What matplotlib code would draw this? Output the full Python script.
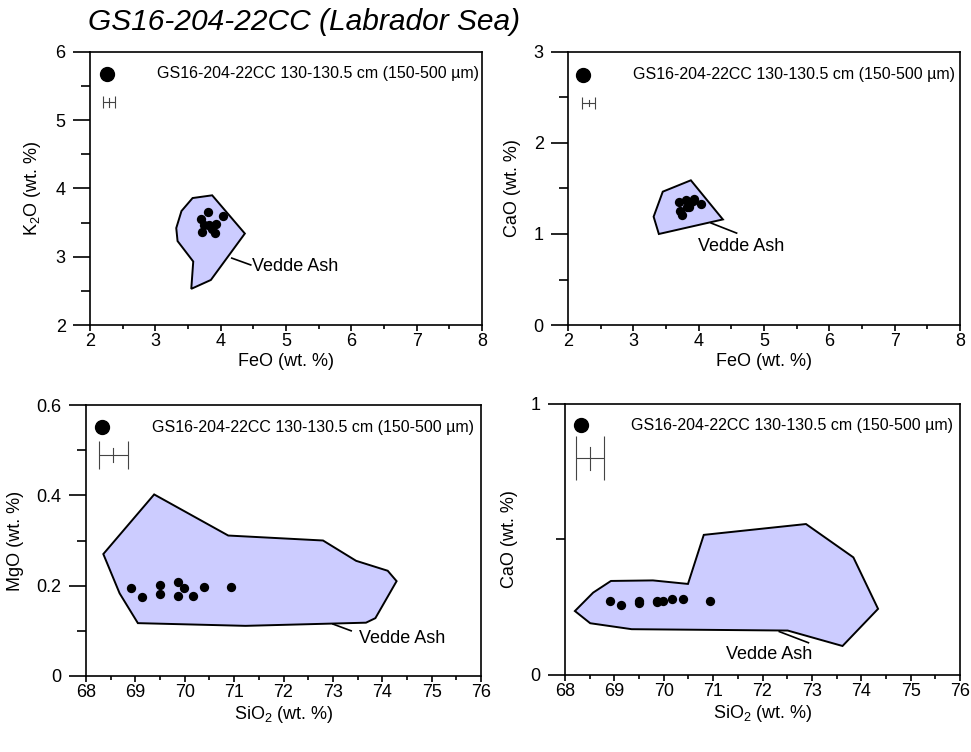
"""
Biplots of glass shard major-element chemistry for GS16-204-22CC (Labrador Sea),
plotted against the Vedde Ash reference field.
"""

import matplotlib

matplotlib.use("Agg")
import matplotlib.pyplot as plt
from matplotlib.patches import Polygon
from matplotlib.ticker import FuncFormatter, MultipleLocator

plt.rcParams["font.family"] = ["Liberation Sans", "DejaVu Sans"]
plt.rcParams["mathtext.fontset"] = "custom"
plt.rcParams["mathtext.rm"] = "Liberation Sans"
plt.rcParams["mathtext.it"] = "Liberation Sans:italic"

SAMPLE_LABEL = "GS16-204-22CC 130-130.5 cm (150-500 µm)"

# shard analyses (wt. %)
sio2 = [68.92, 69.13, 69.49, 69.49, 69.86, 69.98, 69.87, 70.17, 70.39, 70.93]
mgo = [0.195, 0.174, 0.201, 0.182, 0.207, 0.194, 0.176, 0.177, 0.198, 0.198]
cao_si = [0.274, 0.260, 0.274, 0.266, 0.273, 0.272, 0.271, 0.280, 0.280, 0.273]
feo = [3.70, 3.80, 4.03, 3.72, 3.91, 3.82, 3.93, 3.75, 3.87, 3.85]
k2o = [3.56, 3.65, 3.59, 3.36, 3.35, 3.46, 3.48, 3.47, 3.40, 3.44]
cao_fe = [1.35, 1.37, 1.33, 1.25, 1.36, 1.30, 1.39, 1.21, 1.34, 1.30]

# Vedde Ash envelopes
vedde_feo_k2o = [
    (3.40, 3.67), (3.57, 3.86), (3.87, 3.90), (4.37, 3.34), (3.85, 2.66),
    (3.55, 2.53), (3.58, 2.93), (3.34, 3.23), (3.32, 3.42),
]
vedde_feo_cao = [(3.45, 1.465), (3.88, 1.59), (4.37, 1.16), (3.39, 1.00), (3.31, 1.19)]
vedde_sio2_mgo = [
    (68.35, 0.270), (69.38, 0.402), (70.88, 0.311), (72.80, 0.300), (73.47, 0.255),
    (74.11, 0.233), (74.29, 0.210), (73.86, 0.128), (73.67, 0.118), (71.23, 0.111),
    (69.05, 0.117), (68.68, 0.183),
]
vedde_sio2_cao = [
    (68.20, 0.236), (68.57, 0.304), (68.93, 0.347), (69.78, 0.349), (70.49, 0.336),
    (70.81, 0.517), (72.88, 0.557), (73.84, 0.434), (74.34, 0.244), (73.62, 0.107),
    (72.51, 0.164), (69.35, 0.169), (68.51, 0.191),
]

# 2 s.d. on secondary standard (x, y), drawn as a cross
err_feo_k2o = (0.09, 0.06)
err_feo_cao = (0.10, 0.035)
err_sio2_mgo = (0.29, 0.015)
err_sio2_cao = (0.28, 0.042)

FIELD_COLOR = "#ccccff"
ERR_COLOR = "#444444"


def draw_panel(ax, x, y, field, err, xlim, ylim, xstep, ystep, xlabel, ylabel,
               key_xy, err_xy, leader, name_xy, name_ha, capsize):
    ax.add_patch(Polygon(field, closed=True, facecolor=FIELD_COLOR,
                         edgecolor="black", linewidth=1.4, zorder=1))
    ax.plot(*zip(*leader), color="black", linewidth=1.2, zorder=1)
    ax.text(*name_xy, "Vedde Ash", fontsize=13, ha=name_ha, va="center")
    ax.scatter(x, y, s=45, color="black", zorder=3, linewidths=0)

    # key: sample symbol and error cross
    ax.plot(*key_xy, "o", color="black", markersize=10, zorder=3)
    ex, ey = err
    ax.errorbar(*err_xy, xerr=ex, fmt="none", ecolor=ERR_COLOR,
                elinewidth=0.8, capsize=capsize, capthick=0.8, zorder=3)
    ax.plot([err_xy[0], err_xy[0]], [err_xy[1] - ey, err_xy[1] + ey],
            color=ERR_COLOR, linewidth=0.8, zorder=3)
    ax.annotate(SAMPLE_LABEL, xy=key_xy, xytext=(36, 0),
                textcoords="offset points", fontsize=11.5, va="center")

    ax.set_xlim(*xlim)
    ax.set_ylim(*ylim)
    ax.xaxis.set_major_locator(MultipleLocator(xstep))
    ax.xaxis.set_minor_locator(MultipleLocator(0.5))
    ax.yaxis.set_major_locator(MultipleLocator(ystep))
    ax.yaxis.set_minor_locator(MultipleLocator(ystep / 2))
    ax.yaxis.set_major_formatter(FuncFormatter(lambda v, _: f"{v:g}"))
    ax.tick_params(axis="y", which="major", direction="out", length=12.5,
                   width=1.2, pad=5, labelsize=13)
    ax.tick_params(axis="y", which="minor", direction="out", length=6.5, width=1.2)
    ax.tick_params(axis="x", which="major", direction="out", length=4,
                   width=1.2, pad=2, labelsize=13)
    ax.tick_params(axis="x", which="minor", direction="out", length=3, width=1.2)
    for s in ax.spines.values():
        s.set_linewidth(1.2)
    ax.set_xlabel(xlabel, fontsize=13, labelpad=2)
    ax.set_ylabel(ylabel, fontsize=13, labelpad=9)


def main():
    fig = plt.figure(figsize=(9.71, 7.52), dpi=100)
    ax_tl = fig.add_axes([0.0927, 0.5678, 0.4037, 0.3631])
    ax_tr = fig.add_axes([0.5850, 0.5678, 0.4037, 0.3631])
    ax_bl = fig.add_axes([0.0886, 0.1011, 0.4068, 0.3603])
    ax_br = fig.add_axes([0.5819, 0.1024, 0.4068, 0.3604])

    draw_panel(ax_tl, feo, k2o, vedde_feo_k2o, err_feo_k2o, (2, 8), (2, 6), 1, 1,
               "FeO (wt. %)", "K$_\\mathregular{2}$O (wt. %)",
               key_xy=(2.26, 5.68), err_xy=(2.29, 5.26),
               leader=[(4.17, 2.98), (4.46, 2.88)], name_xy=(4.48, 2.86),
               name_ha="left", capsize=4)
    draw_panel(ax_tr, feo, cao_fe, vedde_feo_cao, err_feo_cao, (2, 8), (0, 3), 1, 1,
               "FeO (wt. %)", "CaO (wt. %)",
               key_xy=(2.23, 2.75), err_xy=(2.32, 2.44),
               leader=[(4.19, 1.12), (4.58, 1.01)], name_xy=(4.65, 0.86),
               name_ha="center", capsize=4)
    draw_panel(ax_bl, sio2, mgo, vedde_sio2_mgo, err_sio2_mgo, (68, 76), (0, 0.6), 1, 0.2,
               "SiO$_\\mathregular{2}$ (wt. %)", "MgO (wt. %)",
               key_xy=(68.32, 0.551), err_xy=(68.55, 0.489),
               leader=[(73.0, 0.115), (73.37, 0.10)], name_xy=(73.53, 0.082),
               name_ha="left", capsize=10)
    draw_panel(ax_br, sio2, cao_si, vedde_sio2_cao, err_sio2_cao, (68, 76), (0, 1), 1, 1,
               "SiO$_\\mathregular{2}$ (wt. %)", "CaO (wt. %)",
               key_xy=(68.32, 0.922), err_xy=(68.51, 0.80),
               leader=[(72.34, 0.160), (72.93, 0.119)], name_xy=(72.13, 0.074),
               name_ha="center", capsize=16)

    fig.text(88 / 971, 1 - 22 / 752, "GS16-204-22CC (Labrador Sea)", fontsize=21.5,
             style="italic", ha="left", va="center")

    fig.savefig("out.png", dpi=100)
    plt.close(fig)


if __name__ == "__main__":
    main()
